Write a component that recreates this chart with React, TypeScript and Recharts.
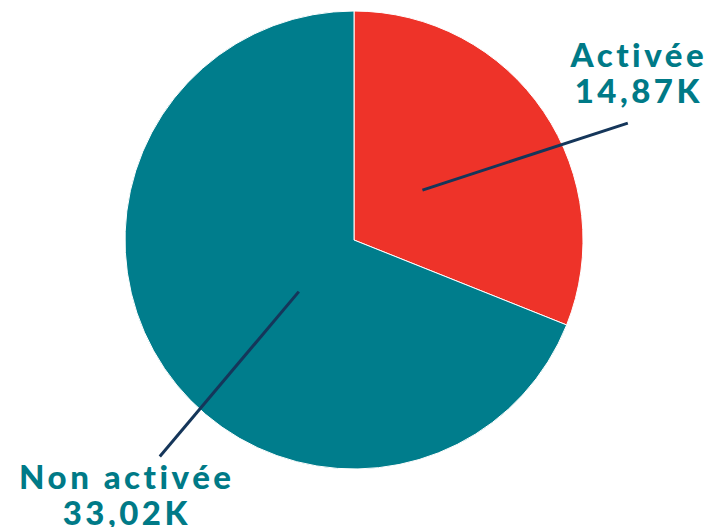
import { Cell, Pie, PieChart } from "recharts";

const CATEGORIES = ["Activée", "Non activée"];
const VALUES = [14870, 33020];
const VALUE_LABELS = ["14,87K", "33,02K"];
const COLORS = ["#EE3329", "#007D8C"];

const data = CATEGORIES.map((name, i) => ({ name, value: VALUES[i] }));

// leader line / text placement per slice (angle offsets in degrees, radii as fraction of R)
const LABEL_LAYOUT = [
  { a0: 2, r0: 0.37, a1: -11, r1: 1.3, tx: 11, ty: -56 },
  { a0: 9, r0: 0.33, a1: 14, r1: 1.27, tx: -33, ty: 32 },
];

const RAD = Math.PI / 180;

function polar(cx: number, cy: number, angle: number, r: number) {
  return { x: cx + r * Math.cos(angle * RAD), y: cy - r * Math.sin(angle * RAD) };
}

function renderLabel(props: any) {
  const { cx, cy, midAngle, outerRadius, index } = props;
  const l = LABEL_LAYOUT[index];
  const p0 = polar(cx, cy, midAngle + l.a0, outerRadius * l.r0);
  const p1 = polar(cx, cy, midAngle + l.a1, outerRadius * l.r1);
  const tx = p1.x + l.tx;
  const ty = p1.y + l.ty;
  return (
    <g key={`lbl-${index}`}>
      <line x1={p0.x} y1={p0.y} x2={p1.x} y2={p1.y} stroke="#15365A" strokeWidth={3} />
      <text
        x={tx}
        y={ty}
        textAnchor="middle"
        fill="#007A87"
        fontFamily="Lato, sans-serif"
        fontWeight={900}
        fontSize={33}
        letterSpacing={3.5}
      >
        <tspan x={tx} dy={0}>{CATEGORIES[index]}</tspan>
        <tspan x={tx} dy={36}>{VALUE_LABELS[index]}</tspan>
      </text>
    </g>
  );
}

export default function App() {
  return (
    <div style={{ position: "absolute", left: 0, top: 0, width: 719, height: 527, background: "#fff" }}>
      <PieChart width={719} height={527} margin={{ top: 0, right: 0, bottom: 0, left: 0 }}>
        <Pie
          data={data}
          dataKey="value"
          nameKey="name"
          cx={354}
          cy={240}
          outerRadius={229}
          startAngle={90}
          endAngle={-270}
          stroke="#ffffff"
          strokeWidth={1}
          label={renderLabel}
          labelLine={false}
          isAnimationActive={false}
        >
          {data.map((d, i) => (
            <Cell key={d.name} fill={COLORS[i]} />
          ))}
        </Pie>
      </PieChart>
    </div>
  );
}
